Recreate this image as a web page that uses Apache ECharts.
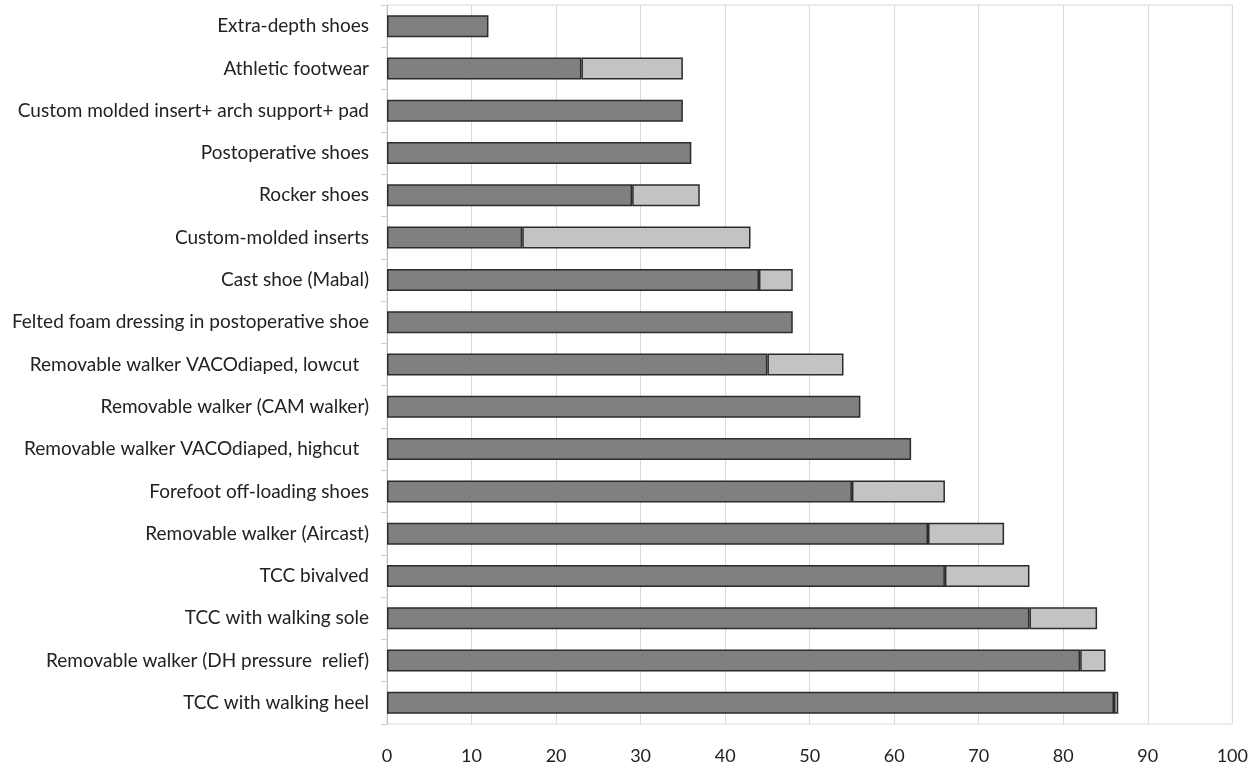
<!DOCTYPE html>
<html>
<head>
<meta charset="utf-8">
<script src="https://cdn.jsdelivr.net/npm/echarts@6/dist/echarts.min.js"></script>
<style>
html,body{margin:0;padding:0;background:#fff;}
#chart{width:1251px;height:767px;}
</style>
</head>
<body>
<div id="chart"></div>
<script>
const categories = [
  "Extra-depth shoes",
  "Athletic footwear",
  "Custom molded insert+ arch support+ pad",
  "Postoperative shoes",
  "Rocker shoes",
  "Custom-molded inserts",
  "Cast shoe (Mabal)",
  "Felted foam dressing in postoperative shoe",
  "Removable walker VACOdiaped, lowcut  ",
  "Removable walker (CAM walker)",
  "Removable walker VACOdiaped, highcut  ",
  "Forefoot off-loading shoes",
  "Removable walker (Aircast)",
  "TCC bivalved",
  "TCC with walking sole",
  "Removable walker (DH pressure  relief)",
  "TCC with walking heel"
];
const darkValues  = [12, 23, 35, 36, 29, 16, 44, 48, 45, 56, 62, 55, 64, 66, 76, 82, 86];
const lightValues = [0, 12, 0, 0, 8, 27, 4, 0, 9, 0, 0, 11, 9, 10, 8, 3, 0.5];
const xTicks = [0, 10, 20, 30, 40, 50, 60, 70, 80, 90, 100];

const chart = echarts.init(document.getElementById('chart'), null, {renderer: 'canvas'});
const font = "Lato, sans-serif";
chart.setOption({
  animation: false,
  backgroundColor: '#ffffff',
  grid: {left: 387, right: 18, top: 5, bottom: 43, containLabel: false,
         show: true, borderColor: '#d9d9d9', borderWidth: 1},
  xAxis: {
    type: 'value', min: xTicks[0], max: xTicks[xTicks.length - 1], interval: 10,
    axisLine: {show: false},
    axisTick: {show: false},
    splitLine: {show: true, lineStyle: {color: '#d9d9d9', width: 1}},
    axisLabel: {color: '#222', fontFamily: font, fontSize: 18, margin: 23}
  },
  yAxis: {
    type: 'category', data: categories, inverse: true,
    axisLine: {show: true, lineStyle: {color: '#bfbfbf'}},
    axisTick: {show: true, length: 6, lineStyle: {color: '#cfcfcf'}},
    axisLabel: {color: '#222', fontFamily: font, fontSize: 19, margin: 18}
  },
  series: [
    {
      type: 'bar', stack: 'total', data: darkValues, barWidth: '52%',
      itemStyle: {color: '#808080', borderColor: '#2b2b2b', borderWidth: 1.5}
    },
    {
      type: 'bar', stack: 'total',
      data: lightValues.map(v => v === 0 ? null : v), barWidth: '52%',
      itemStyle: {color: '#c3c3c3', borderColor: '#2b2b2b', borderWidth: 1.5}
    }
  ]
});
</script>
</body>
</html>
